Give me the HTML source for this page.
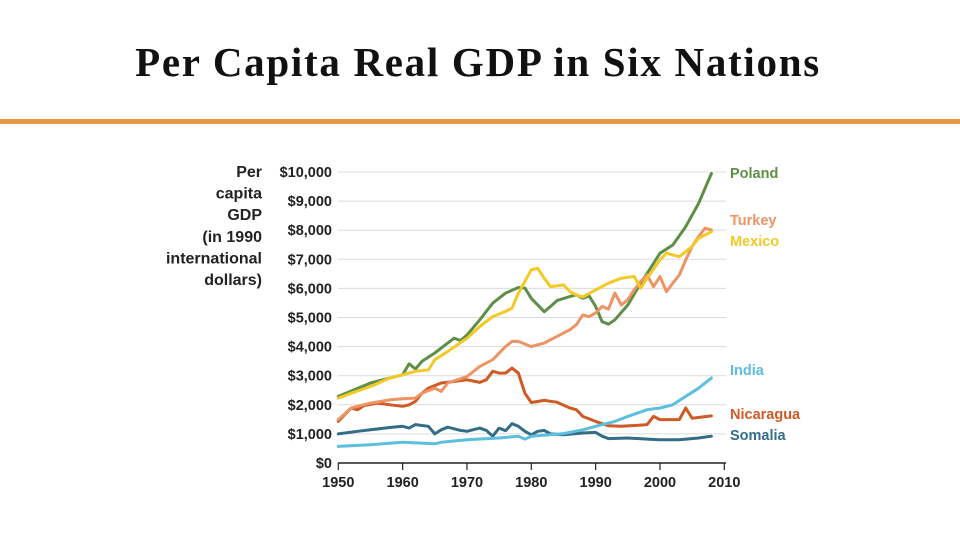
<!DOCTYPE html>
<html><head><meta charset="utf-8"><style>
body{margin:0;background:#fff;}
#wrap{position:relative;width:960px;height:540px;overflow:hidden;background:#fff;}
h1{position:absolute;left:0;width:956px;top:38px;margin:0;text-align:center;font-family:"Liberation Serif",serif;font-weight:bold;font-size:41px;letter-spacing:1.7px;color:#111;}
#rule{position:absolute;left:0;top:119px;width:960px;height:5px;background:#e8964a;}
svg text{font-family:"Liberation Sans",sans-serif;font-weight:bold;}
</style></head><body>
<div id="wrap">
<h1>Per Capita Real GDP in Six Nations</h1>
<div id="rule"></div>
<svg id="chart" width="960" height="540" style="position:absolute;left:0;top:0"></svg>
</div>
<script>
const yTicks=[0,1000,2000,3000,4000,5000,6000,7000,8000,9000,10000];
const xTicks=[1950,1960,1970,1980,1990,2000,2010];
const titleLines=["Per","capita","GDP","(in 1990","international","dollars)"];
const polandYears=[1950,1955,1960,1961,1962,1963,1965,1967,1968,1969,1970,1972,1974,1976,1978,1979,1980,1982,1983,1984,1986,1987,1988,1989,1990,1991,1992,1993,1995,1997,1999,2000,2002,2004,2006,2008];
const polandVals=[2290,2750,3030,3410,3230,3490,3780,4120,4290,4210,4400,4920,5490,5840,6030,6010,5660,5200,5380,5580,5720,5780,5660,5740,5380,4860,4770,4920,5430,6180,6860,7210,7490,8120,8920,9950];
const mexicoYears=[1950,1952,1955,1958,1960,1962,1964,1965,1967,1970,1972,1974,1976,1977,1978,1980,1981,1982,1983,1985,1986,1987,1988,1990,1992,1994,1996,1997,1998,2000,2001,2002,2003,2005,2006,2008];
const mexicoVals=[2230,2400,2630,2920,3030,3150,3200,3550,3830,4290,4690,5030,5210,5320,5840,6640,6690,6350,6060,6120,5890,5780,5700,5950,6180,6350,6410,6010,6350,6980,7210,7150,7090,7440,7720,7950];
const turkeyYears=[1950,1952,1953,1955,1958,1960,1962,1963,1965,1966,1967,1970,1972,1974,1976,1977,1978,1980,1982,1984,1986,1987,1988,1989,1990,1991,1992,1993,1994,1995,1996,1997,1998,1999,2000,2001,2002,2003,2004,2005,2006,2007,2008];
const turkeyVals=[1490,1890,1950,2060,2170,2210,2230,2400,2570,2460,2750,2970,3320,3550,4000,4180,4180,4000,4120,4350,4580,4750,5090,5030,5150,5380,5290,5840,5430,5610,5950,6240,6460,6060,6410,5890,6180,6460,6980,7440,7780,8070,8010];
const nicaraguaYears=[1950,1951,1952,1953,1954,1956,1958,1960,1961,1962,1963,1964,1966,1968,1970,1972,1973,1974,1975,1976,1977,1978,1979,1980,1982,1984,1986,1987,1988,1990,1992,1994,1996,1998,1999,2000,2003,2004,2005,2008];
const nicaraguaVals=[1430,1660,1890,1830,1970,2060,2000,1950,2000,2120,2400,2570,2750,2800,2860,2770,2860,3150,3090,3090,3260,3090,2400,2080,2150,2090,1890,1830,1600,1430,1280,1260,1290,1320,1600,1490,1490,1890,1540,1620];
const indiaYears=[1950,1955,1960,1965,1966,1970,1975,1978,1979,1980,1985,1988,1990,1993,1995,1998,2000,2002,2004,2006,2008];
const indiaVals=[570,630,710,660,710,800,860,920,820,920,1010,1140,1260,1430,1600,1830,1890,2000,2290,2570,2920];
const somaliaYears=[1950,1953,1955,1958,1960,1961,1962,1964,1965,1966,1967,1969,1970,1972,1973,1974,1975,1976,1977,1978,1979,1980,1981,1982,1983,1985,1988,1990,1991,1992,1995,1998,2000,2003,2006,2008];
const somaliaVals=[1000,1090,1140,1220,1260,1200,1320,1260,1000,1140,1230,1120,1090,1200,1120,920,1200,1110,1350,1260,1090,970,1090,1120,1000,970,1030,1050,920,840,860,820,800,800,860,920];
const series=[
 {name:"poland",label:"Poland",color:"#5e8f46",xs:polandYears,ys:polandVals,ly:173},
 {name:"nicaragua",label:"Nicaragua",color:"#cf5a26",xs:nicaraguaYears,ys:nicaraguaVals,ly:414},
 {name:"turkey",label:"Turkey",color:"#ee9464",xs:turkeyYears,ys:turkeyVals,ly:220},
 {name:"mexico",label:"Mexico",color:"#f2c925",xs:mexicoYears,ys:mexicoVals,ly:241},
 {name:"somalia",label:"Somalia",color:"#336d87",xs:somaliaYears,ys:somaliaVals,ly:435},
 {name:"india",label:"India",color:"#5bbfdd",xs:indiaYears,ys:indiaVals,ly:370}
];
const NS="http://www.w3.org/2000/svg";
const svg=document.getElementById('chart');
const X=y=>338.3+(y-1950)*(724.3-338.3)/60;
const Y=v=>463-v*(291/10000);
function mk(t,a){const e=document.createElementNS(NS,t);for(const k in a)e.setAttribute(k,a[k]);svg.appendChild(e);return e;}
yTicks.forEach(v=>{
 if(v>0){const g=mk('line',{x1:338,x2:726,y1:Y(v),y2:Y(v),stroke:'#dcdcdc','stroke-width':1});
 
 }
 const t=mk('text',{x:332,y:Y(v)+5,'text-anchor':'end','font-size':14.5,fill:'#222'});
 t.textContent='$'+v.toLocaleString('en-US');
 
 
});
titleLines.forEach((s,i)=>{
 const t=mk('text',{x:262,y:177+i*21.6,'text-anchor':'end','font-size':16,fill:'#222'});
 t.textContent=s;
 
 
});
const ax=mk('line',{x1:338,x2:726,y1:463,y2:463,stroke:'#222','stroke-width':1.5});


xTicks.forEach(y=>{
 const l=mk('line',{x1:X(y),x2:X(y),y1:463,y2:470,stroke:'#222','stroke-width':1.2});
 
 
 const t=mk('text',{x:X(y),y:487,'text-anchor':'middle','font-size':14.5,fill:'#222'});
 t.textContent=y;
 
 
});
series.forEach(s=>{
 const pts=s.xs.map((x,i)=>X(x).toFixed(1)+','+Y(s.ys[i]).toFixed(1)).join(' ');
 const p=mk('polyline',{points:pts,fill:'none',stroke:s.color,'stroke-width':3,'stroke-linejoin':'round','stroke-linecap':'round'});
 
 
 const t=mk('text',{x:730,y:s.ly+5,'font-size':14.5,fill:s.color});
 t.textContent=s.label;
 
 
});
</script>
</body></html>
